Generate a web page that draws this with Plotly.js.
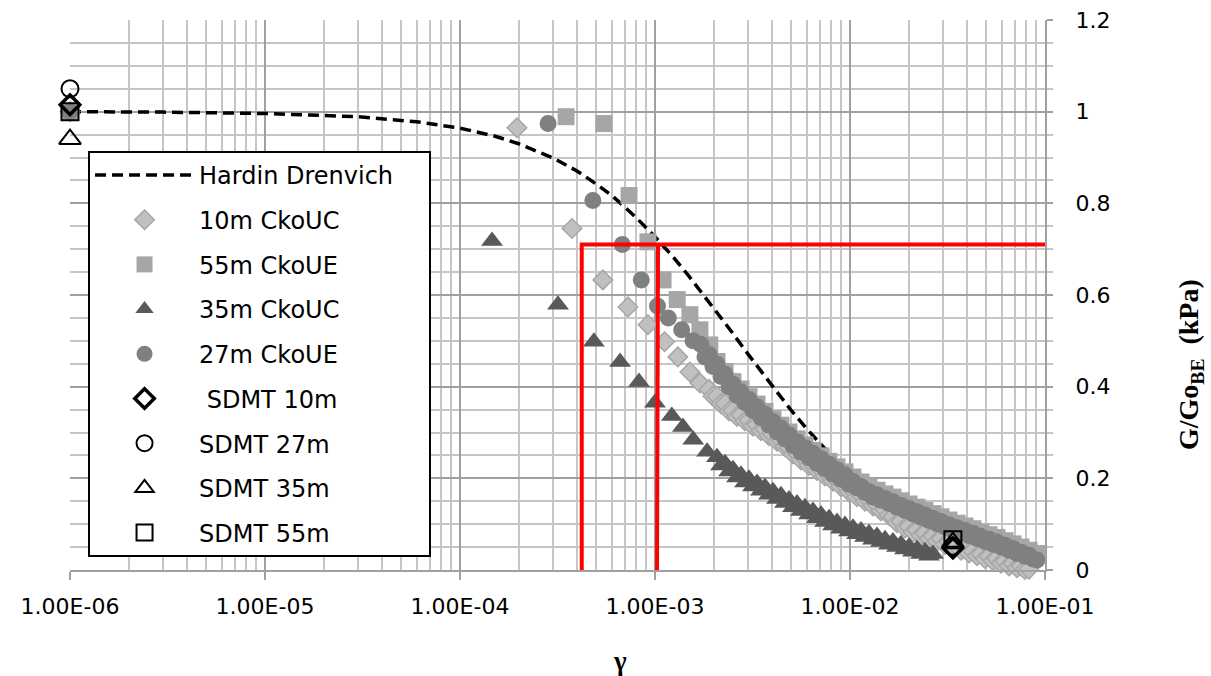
<!DOCTYPE html>
<html><head><meta charset="utf-8">
<script src="https://cdn.plot.ly/plotly-3.0.1.min.js"></script>
<style>html,body{margin:0;padding:0;background:#fff}#chart{width:1211px;height:676px}</style>
</head><body><div id="chart"></div>
<script>
// ---- data ----
const hardinGamma = [1e-6, 3e-6, 1e-5, 3e-5, 6e-5, 1e-4, 1.5e-4, 2e-4, 3e-4, 4e-4, 5e-4, 6e-4, 7e-4, 8e-4, 1e-3, 1.25e-3, 1.5e-3, 2e-3, 2.5e-3, 3e-3, 4e-3, 5e-3, 6e-3, 7e-3, 8e-3, 1e-2, 1.25e-2];
const hardinG = [1.0, 0.999, 0.996, 0.989, 0.978, 0.964, 0.947, 0.930, 0.899, 0.870, 0.842, 0.817, 0.792, 0.769, 0.727, 0.681, 0.640, 0.572, 0.517, 0.471, 0.400, 0.348, 0.308, 0.276, 0.250, 0.211, 0.176];

// 10m CkoUC
const uc10Gamma = [1e-6, 1.96e-4, 3.75e-4, 5.4e-4, 7.27e-4, 9.2e-4, 1.12e-3, 1.31e-3, 1.51e-3, 1.70e-3,
  1.892e-3, 1.983e-3, 2.079e-3, 2.180e-3, 2.286e-3, 2.397e-3, 2.512e-3, 2.633e-3, 2.761e-3, 2.894e-3,
  3.034e-3, 3.181e-3, 3.335e-3, 3.496e-3, 3.665e-3, 3.842e-3, 4.028e-3, 4.223e-3, 4.427e-3, 4.641e-3,
  4.866e-3, 5.101e-3, 5.348e-3, 5.607e-3, 5.877e-3, 6.161e-3, 6.460e-3, 6.772e-3, 7.100e-3, 7.443e-3,
  7.803e-3, 8.180e-3, 8.576e-3, 8.991e-3, 9.427e-3, 9.883e-3, 1.036e-2, 1.086e-2, 1.139e-2, 1.194e-2,
  1.251e-2, 1.312e-2, 1.375e-2, 1.441e-2, 1.512e-2, 1.585e-2, 1.661e-2, 1.741e-2, 1.826e-2, 1.914e-2,
  2.007e-2, 2.104e-2, 2.206e-2, 2.313e-2, 2.424e-2, 2.541e-2, 2.665e-2, 2.794e-2, 2.929e-2, 3.071e-2,
  3.219e-2, 3.375e-2, 3.538e-2, 3.709e-2, 3.888e-2, 4.076e-2, 4.274e-2, 4.481e-2, 4.697e-2, 4.924e-2,
  5.162e-2, 5.412e-2, 5.673e-2, 5.947e-2, 6.236e-2, 6.538e-2, 6.853e-2, 7.184e-2, 7.532e-2, 7.896e-2, 8.278e-2];
const uc10G = [1.0, 0.965, 0.745, 0.633, 0.574, 0.535, 0.498, 0.465, 0.432, 0.408,
  0.394, 0.379, 0.379, 0.363, 0.363, 0.347, 0.348, 0.335, 0.338, 0.325,
  0.327, 0.314, 0.317, 0.304, 0.307, 0.293, 0.295, 0.281, 0.283, 0.269,
  0.268, 0.253, 0.255, 0.240, 0.242, 0.228, 0.230, 0.217, 0.219, 0.205,
  0.207, 0.194, 0.196, 0.182, 0.184, 0.171, 0.173, 0.160, 0.163, 0.150,
  0.153, 0.140, 0.142, 0.129, 0.132, 0.119, 0.116, 0.103, 0.106, 0.092,
  0.095, 0.083, 0.087, 0.076, 0.080, 0.069, 0.074, 0.063, 0.068, 0.056,
  0.061, 0.050, 0.054, 0.043, 0.048, 0.037, 0.041, 0.031, 0.035, 0.025,
  0.030, 0.020, 0.025, 0.015, 0.019, 0.009, 0.014, 0.005, 0.009, 0.001, 0.002];

// 55m CkoUE
const ue55Gamma = [1e-6, 3.5e-4, 5.47e-4, 7.36e-4, 9.2e-4, 1.10e-3, 1.30e-3, 1.51e-3, 1.70e-3, 1.91e-3,
  2.079e-3, 2.286e-3, 2.512e-3, 2.761e-3, 3.034e-3, 3.335e-3, 3.665e-3, 4.028e-3, 4.427e-3, 4.866e-3,
  5.348e-3, 5.877e-3, 6.460e-3, 7.100e-3, 7.803e-3, 8.576e-3, 9.427e-3, 1.036e-2, 1.139e-2, 1.251e-2,
  1.375e-2, 1.512e-2, 1.661e-2, 1.826e-2, 2.007e-2, 2.206e-2, 2.424e-2, 2.665e-2, 2.929e-2, 3.219e-2,
  3.538e-2, 3.888e-2, 4.274e-2, 4.697e-2, 5.162e-2, 5.673e-2, 6.236e-2, 6.853e-2, 7.532e-2, 8.278e-2, 9.099e-2];
const ue55G = [1.0, 0.989, 0.974, 0.817, 0.716, 0.633, 0.590, 0.557, 0.524, 0.491,
  0.455, 0.433, 0.411, 0.395, 0.378, 0.362, 0.346, 0.330, 0.316, 0.301,
  0.286, 0.273, 0.261, 0.249, 0.237, 0.225, 0.214, 0.203, 0.192, 0.181,
  0.174, 0.166, 0.159, 0.151, 0.144, 0.137, 0.130, 0.123, 0.116, 0.109,
  0.102, 0.096, 0.090, 0.083, 0.077, 0.071, 0.064, 0.057, 0.050, 0.043, 0.036];

// 35m CkoUC
const uc35Gamma = [1.46e-4, 3.18e-4, 4.86e-4, 6.62e-4, 8.28e-4, 1.0e-3, 1.22e-3, 1.39e-3, 1.57e-3, 1.85e-3,
  2.079e-3, 2.180e-3, 2.286e-3, 2.397e-3, 2.512e-3, 2.633e-3, 2.761e-3, 2.894e-3, 3.034e-3, 3.181e-3,
  3.335e-3, 3.496e-3, 3.665e-3, 3.842e-3, 4.028e-3, 4.223e-3, 4.427e-3, 4.641e-3, 4.866e-3, 5.101e-3,
  5.348e-3, 5.607e-3, 5.877e-3, 6.161e-3, 6.460e-3, 6.772e-3, 7.100e-3, 7.443e-3, 7.803e-3, 8.180e-3,
  8.576e-3, 8.991e-3, 9.427e-3, 9.883e-3, 1.036e-2, 1.086e-2, 1.139e-2, 1.194e-2, 1.251e-2, 1.312e-2,
  1.375e-2, 1.441e-2, 1.512e-2, 1.585e-2, 1.661e-2, 1.741e-2, 1.826e-2, 1.914e-2, 2.007e-2, 2.104e-2,
  2.206e-2, 2.313e-2, 2.424e-2, 2.541e-2, 2.665e-2];
const uc35G = [0.718, 0.579, 0.498, 0.454, 0.410, 0.365, 0.336, 0.312, 0.284, 0.258,
  0.246, 0.228, 0.233, 0.215, 0.220, 0.202, 0.208, 0.191, 0.199, 0.182,
  0.190, 0.173, 0.181, 0.164, 0.172, 0.155, 0.163, 0.146, 0.154, 0.137,
  0.145, 0.129, 0.137, 0.121, 0.129, 0.113, 0.121, 0.105, 0.113, 0.097,
  0.105, 0.090, 0.098, 0.084, 0.092, 0.078, 0.086, 0.072, 0.080, 0.066,
  0.074, 0.061, 0.067, 0.055, 0.062, 0.050, 0.056, 0.045, 0.051, 0.040,
  0.046, 0.035, 0.041, 0.031, 0.035];

// 27m CkoUE
const ue27Gamma = [1e-6, 2.83e-4, 4.8e-4, 6.8e-4, 8.5e-4, 1.03e-3, 1.17e-3, 1.37e-3, 1.566e-3,
  1.721e-3, 1.804e-3, 1.892e-3, 1.983e-3, 2.079e-3, 2.180e-3, 2.286e-3, 2.397e-3, 2.512e-3, 2.633e-3,
  2.761e-3, 2.894e-3, 3.034e-3, 3.181e-3, 3.335e-3, 3.496e-3, 3.665e-3, 3.842e-3, 4.028e-3, 4.223e-3,
  4.427e-3, 4.641e-3, 4.866e-3, 5.101e-3, 5.348e-3, 5.607e-3, 5.877e-3, 6.161e-3, 6.460e-3, 6.772e-3,
  7.100e-3, 7.443e-3, 7.803e-3, 8.180e-3, 8.576e-3, 8.991e-3, 9.427e-3, 9.883e-3, 1.036e-2, 1.086e-2,
  1.139e-2, 1.194e-2, 1.251e-2, 1.312e-2, 1.375e-2, 1.441e-2, 1.512e-2, 1.585e-2, 1.661e-2, 1.741e-2,
  1.826e-2, 1.914e-2, 2.007e-2, 2.104e-2, 2.206e-2, 2.313e-2, 2.424e-2, 2.541e-2, 2.665e-2, 2.794e-2,
  2.929e-2, 3.071e-2, 3.219e-2, 3.375e-2, 3.538e-2, 3.709e-2, 3.888e-2, 4.076e-2, 4.274e-2, 4.481e-2,
  4.697e-2, 4.924e-2, 5.162e-2, 5.412e-2, 5.673e-2, 5.947e-2, 6.236e-2, 6.538e-2, 6.853e-2, 7.184e-2,
  7.532e-2, 7.896e-2, 8.278e-2, 8.678e-2, 9.099e-2];
const ue27G = [1.0, 0.974, 0.806, 0.710, 0.633, 0.576, 0.550, 0.524, 0.500,
  0.492, 0.465, 0.470, 0.444, 0.449, 0.422, 0.427, 0.400, 0.405, 0.381,
  0.389, 0.365, 0.372, 0.348, 0.356, 0.332, 0.340, 0.316, 0.324, 0.301,
  0.310, 0.286, 0.295, 0.271, 0.280, 0.257, 0.267, 0.245, 0.255, 0.233,
  0.243, 0.221, 0.231, 0.209, 0.219, 0.198, 0.208, 0.187, 0.193, 0.179,
  0.182, 0.169, 0.171, 0.159, 0.164, 0.152, 0.156, 0.145, 0.149, 0.137,
  0.141, 0.130, 0.134, 0.122, 0.127, 0.115, 0.120, 0.108, 0.113, 0.101,
  0.106, 0.094, 0.099, 0.087, 0.092, 0.081, 0.086, 0.075, 0.080, 0.069,
  0.073, 0.062, 0.067, 0.056, 0.061, 0.050, 0.054, 0.043, 0.047, 0.036,
  0.039, 0.030, 0.032, 0.024, 0.022];

const sdmtGamma = [1e-6, 3.37e-2];
const sdmt10G = [1.015, 0.048];
const sdmt27G = [1.05, 0.052];
const sdmt35G = [0.94, 0.061];
const sdmt55G = [1.0, 0.066];

const limitGammaA = [4.21e-4, 4.21e-4, 1e-1];
const limitGA = [0, 0.71, 0.71];
const limitGammaB = [1.036e-3, 1.024e-3];
const limitGB = [0.71, 0];

const xTickVals = [1e-6, 1e-5, 1e-4, 1e-3, 1e-2, 1e-1];
const xTickText = ['1.00E-06', '1.00E-05', '1.00E-04', '1.00E-03', '1.00E-02', '1.00E-01'];

// ---- minor log grid positions ----
const xMinor = [];
for (let e = -6; e < -1; e++) for (let d = 2; d <= 9; d++) xMinor.push(d * Math.pow(10, e));

const NB = '\u00a0';
let g = 0;
function tr(o) { g++; return Object.assign({type: 'scatter', legendgroup: 'g' + g, hoverinfo: 'skip', cliponaxis: false}, o); }

const traces = [
  tr({x: hardinGamma, y: hardinG, mode: 'lines', name: 'Hardin Drenvich' + NB + NB + NB + NB, cliponaxis: true,
      line: {color: '#000', width: 3.5, dash: '11px,6px'}}),
  tr({x: uc10Gamma, y: uc10G, mode: 'markers', name: '10m CkoUC',
      marker: {symbol: 'diamond', size: 15, color: '#c0c0c0', line: {color: '#a6a6a6', width: 1.5}}}),
  tr({x: ue55Gamma, y: ue55G, mode: 'markers', name: '55m CkoUE',
      marker: {symbol: 'square', size: 17, color: '#a6a6a6', line: {width: 0}}}),
  tr({x: uc35Gamma, y: uc35G, mode: 'markers', name: '35m CkoUC',
      marker: {symbol: 'triangle-up', size: 19, color: '#595959', line: {width: 0}}}),
  tr({x: ue27Gamma, y: ue27G, mode: 'markers', name: '27m CkoUE',
      marker: {symbol: 'circle', size: 17, color: '#808080', line: {width: 0}}}),
  tr({x: sdmtGamma, y: sdmt10G, mode: 'markers', name: NB + 'SDMT 10m',
      marker: {symbol: 'diamond-open', size: 15, color: '#000', line: {color: '#000', width: 3.5}}}),
  tr({x: sdmtGamma, y: sdmt27G, mode: 'markers', name: 'SDMT 27m',
      marker: {symbol: 'circle-open', size: 17, color: '#000', line: {color: '#000', width: 2}}}),
  tr({x: sdmtGamma, y: sdmt35G, mode: 'markers', name: 'SDMT 35m',
      marker: {symbol: 'triangle-up-open', size: 19, color: '#000', line: {color: '#000', width: 2}}}),
  tr({x: sdmtGamma, y: sdmt55G, mode: 'markers', name: 'SDMT 55m',
      marker: {symbol: 'square-open', size: 17, color: '#000', line: {color: '#000', width: 2}}}),
  {type: 'scatter', x: limitGammaA, y: limitGA, mode: 'lines', showlegend: false, hoverinfo: 'skip',
      line: {color: '#ff0000', width: 4}},
  {type: 'scatter', x: limitGammaB, y: limitGB, mode: 'lines', showlegend: false, hoverinfo: 'skip',
      line: {color: '#ff0000', width: 4}}
];

const layout = {
  width: 1211, height: 676,
  margin: {l: 70, r: 166, t: 20, b: 106},
  paper_bgcolor: '#ffffff', plot_bgcolor: '#ffffff',
  showlegend: true,
  font: {family: 'DejaVu Sans, sans-serif', color: '#000'},
  xaxis: {
    type: 'log', range: [-6, -1],
    tickmode: 'array', tickvals: xTickVals, ticktext: xTickText,
    tickfont: {size: 22, family: 'DejaVu Sans, sans-serif', color: '#000'},
    ticks: 'outside', ticklen: 8, tickwidth: 2, tickcolor: '#a0a0a0',
    showgrid: true, gridcolor: '#a0a0a0', gridwidth: 2,
    minor: {tickmode: 'array', tickvals: xMinor, showgrid: true, gridcolor: '#c6c6c6', gridwidth: 2, ticks: ''},
    showline: true, linecolor: '#a0a0a0', linewidth: 2,
    zeroline: false, ticklabelstandoff: 8, automargin: false
  },
  yaxis: {
    side: 'right', range: [0, 1.2], tickmode: 'linear', tick0: 0, dtick: 0.2,
    tickfont: {size: 22, family: 'DejaVu Sans, sans-serif', color: '#000'},
    ticks: 'outside', ticklen: 6, tickwidth: 2, tickcolor: '#a0a0a0',
    showgrid: true, gridcolor: '#a0a0a0', gridwidth: 2,
    minor: {dtick: 0.05, showgrid: true, gridcolor: '#c6c6c6', gridwidth: 2, ticks: 'outside', ticklen: 6, tickcolor: '#c6c6c6', tickwidth: 2},
    showline: true, linecolor: '#a0a0a0', linewidth: 2,
    zeroline: false, ticklabelstandoff: 18, automargin: false
  },
  legend: {
    x: 0.0185, y: 0.762, xanchor: 'left', yanchor: 'top',
    bgcolor: '#ffffff', bordercolor: '#000', borderwidth: 2,
    font: {size: 24, family: 'DejaVu Sans, sans-serif', color: '#000'},
    itemwidth: 99, tracegroupgap: 10.5, traceorder: 'grouped'
  },
  annotations: [
    {text: '<b>γ</b>', xref: 'paper', yref: 'paper', x: 0.564, y: -0.165, showarrow: false,
     xanchor: 'center', yanchor: 'middle', font: {family: 'Liberation Serif, serif', size: 27, color: '#000'}},
    {text: '<b>G/Go<sub>BE</sub>  (kPa)</b>', xref: 'paper', yref: 'paper', x: 1.1487, y: 0.3745, textangle: -90,
     showarrow: false, xanchor: 'center', yanchor: 'middle', font: {family: 'Liberation Serif, serif', size: 28, color: '#000'}}
  ]
};

Plotly.newPlot('chart', traces, layout, {displayModeBar: false, staticPlot: true});
</script>
</body></html>
